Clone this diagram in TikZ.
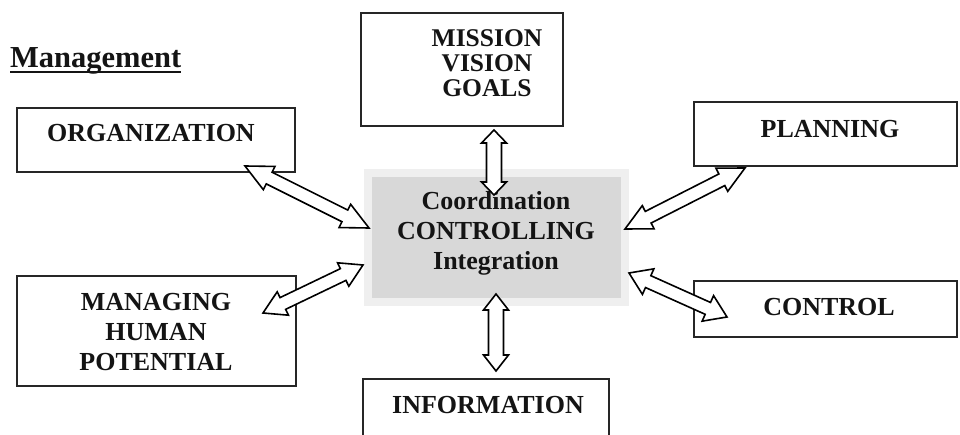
\documentclass[tikz,border=0pt]{standalone}
\usepackage{fontspec}
\setmainfont{Liberation Serif}
\usetikzlibrary{calc}
\definecolor{boxline}{HTML}{262626}
\definecolor{centerfill}{HTML}{D8D8D8}
\definecolor{centerrim}{HTML}{EFEFEF}
\tikzset{
  box/.style={draw=boxline, line width=2.5pt, rectangle, inner sep=0pt},
  lbl/.style={font=\bfseries\fontsize{26}{30}\selectfont, align=center, inner sep=0pt, text=black!92},
  blockarrow/.style={draw=black, fill=white, line width=1.6pt, line join=miter},
}
% #1,#2 tip coordinates, #3 head length, #4 head half width, #5 shaft half width
\newcommand\dblarrow[5]{%
  \path ($(#1)!#3!(#2)$) coordinate (#1-h) ($(#2)!#3!(#1)$) coordinate (#2-h);
  \draw[blockarrow] (#1)
    -- ($(#1-h)!#4!90:(#2)$) -- ($(#1-h)!#5!90:(#2)$)
    -- ($(#2-h)!#5!-90:(#1)$) -- ($(#2-h)!#4!-90:(#1)$)
    -- (#2)
    -- ($(#2-h)!#4!90:(#1)$) -- ($(#2-h)!#5!90:(#1)$)
    -- ($(#1-h)!#5!-90:(#2)$) -- ($(#1-h)!#4!-90:(#2)$)
    -- cycle;}
\begin{document}
\begin{tikzpicture}[x=1pt,y=-1pt]
\useasboundingbox (0,0) rectangle (960,435);
\begin{scope}
\clip (0,0) rectangle (960,435);
\fill[white] (0,0) rectangle (960,435);

% title
\node[font=\bfseries\fontsize{30.5}{36}\selectfont, anchor=base west, inner sep=0pt, text=black!92] (title) at (10,68)
  {\setbox0\hbox{Management}\rlap{\rule[-5pt]{\wd0}{2pt}}\box0};

% boxes
\node[box, minimum width=202pt, minimum height=113pt] (mission) at (462,69.5) {};
\node[box, minimum width=278pt, minimum height=64pt] (org) at (156,140) {};
\node[box, minimum width=263pt, minimum height=64pt] (plan) at (825.5,134) {};
\node[box, minimum width=263pt, minimum height=56pt] (ctrl) at (825.5,309) {};
\node[box, minimum width=279pt, minimum height=110pt] (mhp) at (156.5,331) {};
\node[box, minimum width=246pt, minimum height=80pt] (info) at (486,419) {};

% center
\node[draw=centerrim, fill=centerfill, line width=8pt, minimum width=257pt, minimum height=129pt, inner sep=0pt] (core) at (496.5,237.5) {};

% texts
\node[lbl, font=\bfseries\fontsize{25.5}{25}\selectfont] (missiont) at (487,63.5) {MISSION\\VISION\\GOALS};
\node[lbl] (orgt) at (151,133.5) {ORGANIZATION};
\node[lbl] (plant) at (830,129) {PLANNING};
\node[lbl] (ctrlt) at (829,307.5) {CONTROL};
\node[lbl] (mhpt) at (156,332) {MANAGING\\HUMAN\\POTENTIAL};
\node[lbl] (infot) at (488,405) {INFORMATION};
\node[lbl] (coret) at (496,233.5) {Coordination\\CONTROLLING\\Integration};

% arrow tips
\coordinate (tA) at (494,130);   \coordinate (tB) at (494,195);
\coordinate (bA) at (496,294);   \coordinate (bB) at (496,371);
\coordinate (oA) at (245,166);   \coordinate (oB) at (369,228);
\coordinate (mA) at (363,265);   \coordinate (mB) at (263,313);
\coordinate (pA) at (745,168);   \coordinate (pB) at (625,229);
\coordinate (cA) at (629,273);   \coordinate (cB) at (727,317);

\dblarrow{tA}{tB}{13pt}{12.5pt}{7.5pt}
\dblarrow{bA}{bB}{16pt}{12.5pt}{7.5pt}
\dblarrow{oA}{oB}{27pt}{13pt}{6.5pt}
\dblarrow{mA}{mB}{22pt}{13pt}{6.5pt}
\dblarrow{pA}{pB}{26pt}{13pt}{6.5pt}
\dblarrow{cA}{cB}{21pt}{14pt}{6.5pt}
\end{scope}
\end{tikzpicture}
\end{document}
